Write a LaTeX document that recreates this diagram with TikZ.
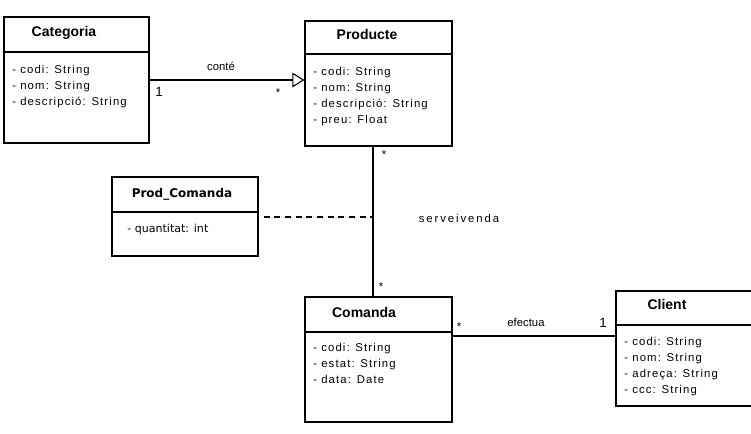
\documentclass[tikz,border=0pt]{standalone}
\usepackage{fontspec}
\setmainfont{Liberation Sans}
\newfontfamily\attrfont[LetterSpace=10]{Liberation Sans}
\newfontfamily\spacedfont[LetterSpace=17]{Liberation Sans}
\newfontfamily\assocfont{DejaVu Sans}
\usetikzlibrary{arrows.meta,fit}

\begin{document}
\begin{tikzpicture}[x=0.75pt,y=-0.75pt,
    classbox/.style={draw,line width=0.9pt,inner sep=0pt,fit={#1}},
    title/.style={font=\fontsize{10.5}{12}\selectfont\bfseries},
    attrs/.style={anchor=north west,inner sep=0pt,align=left,
        font=\attrfont\fontsize{8.5}{12}\selectfont},
    role/.style={inner sep=0pt,font=\fontsize{8.5}{10}\selectfont},
    assoc/.style={line width=0.8pt}]
    \useasboundingbox (0,0) rectangle (751,433);
    \clip (0,0) rectangle (751,433);

    \node[classbox={(4,17) (149,143)}] (categoria) {};
    \node[classbox={(305,21) (452,146)}] (producte) {};
    \node[classbox={(112,177) (258,256)}] (prodcomanda) {};
    \node[classbox={(305,297) (452,422)}] (comanda) {};
    \node[classbox={(616,291) (770,406)}] (client) {};

    \draw[line width=0.9pt] (categoria.west |- 0,52) -- (categoria.east |- 0,52);
    \draw[line width=0.9pt] (producte.west |- 0,54) -- (producte.east |- 0,54);
    \draw[line width=0.9pt] (prodcomanda.west |- 0,212) -- (prodcomanda.east |- 0,212);
    \draw[line width=0.9pt] (comanda.west |- 0,332) -- (comanda.east |- 0,332);
    \draw[line width=0.9pt] (client.west |- 0,325) -- (client.east |- 0,325);

    \node[title] (categoria-t) at (64,33) {Categoria};
    \node[title] (producte-t) at (367,34) {Producte};
    \node[title,font=\assocfont\fontsize{9}{11}\selectfont\bfseries] (prodcomanda-t) at (182,194) {Prod\_Comanda};
    \node[title] (comanda-t) at (364,312) {Comanda};
    \node[title] (client-t) at (667,304) {Client};

    \node[attrs] (categoria-a) at (12,65) {- codi: String\\- nom: String\\- descripció: String};
    \node[attrs] (producte-a) at (313,67) {- codi: String\\- nom: String\\- descripció: String\\- preu: Float};
    \node[attrs,font=\assocfont\fontsize{8.3}{11}\selectfont] (prodcomanda-a) at (127,224) {- quantitat: int};
    \node[attrs] (comanda-a) at (313,343) {- codi: String\\- estat: String\\- data: Date};
    \node[attrs] (client-a) at (624,337) {- codi: String\\- nom: String\\- adreça: String\\- ccc: String};

    \coordinate (venda) at (373,217);
    \coordinate (efect) at (0,336);

    \draw[assoc,-{Triangle[open,length=9pt,width=11pt]}] (categoria.east) -- (categoria.east -| producte.west);
    \draw[assoc] (producte.south -| venda) -- (comanda.north -| venda);
    \draw[assoc,dashed,dash pattern=on 4.5pt off 3.5pt,shorten <=3.75pt] (prodcomanda.east |- venda) -- (venda);
    \draw[assoc] (comanda.east |- efect) -- (client.west |- efect);

    \node[role] (conte) at (221,66) {conté};
    \node[role,font=\fontsize{10}{12}\selectfont] (conte-1) at (159,92) {1};
    \node[role] (conte-n) at (278,93) {*};
    \node[role] (venda-p) at (384,155) {*};
    \node[role,font=\spacedfont\fontsize{8.5}{10}\selectfont] (venda-l) at (459,218) {serveivenda};
    \node[role] (venda-c) at (381,287) {*};
    \node[role] (efect-n) at (459,327) {*};
    \node[role] (efect-l) at (526,322) {efectua};
    \node[role,font=\fontsize{10}{12}\selectfont] (efect-1) at (603,323) {1};
\end{tikzpicture}
\end{document}
